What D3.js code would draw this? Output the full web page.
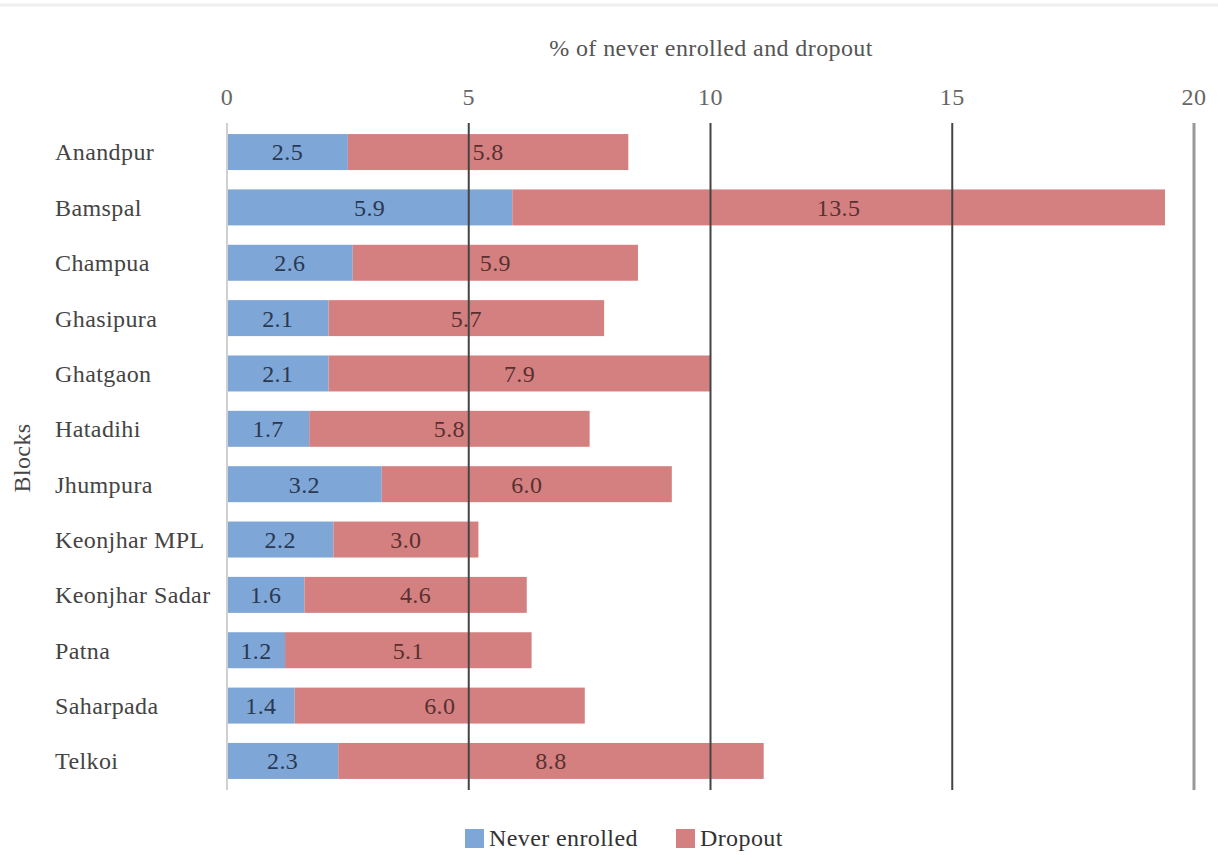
<!DOCTYPE html>
<html>
<head>
<meta charset="utf-8">
<script src="https://cdn.jsdelivr.net/npm/d3@7"></script>
<style>
  body { margin: 0; background: #fff; }
  svg text { font-family: 'Liberation Serif', 'Times New Roman', serif; letter-spacing: 0.4px; }
</style>
</head>
<body>
<svg id="chart" width="1218" height="855"></svg>
<script>
// Data
const blocks = ['Anandpur', 'Bamspal', 'Champua', 'Ghasipura', 'Ghatgaon', 'Hatadihi',
  'Jhumpura', 'Keonjhar MPL', 'Keonjhar Sadar', 'Patna', 'Saharpada', 'Telkoi'];
const neverEnrolled = [2.5, 5.9, 2.6, 2.1, 2.1, 1.7, 3.2, 2.2, 1.6, 1.2, 1.4, 2.3];
const dropout = [5.8, 13.5, 5.9, 5.7, 7.9, 5.8, 6.0, 3.0, 4.6, 5.1, 6.0, 8.8];
const xTicks = [0, 5, 10, 15, 20];
const seriesNames = ['Never enrolled', 'Dropout'];
const seriesColors = ['#7ea6d6', '#d48080'];

// Dimensions
const WIDTH = 1218;
const PLOT_LEFT = 227;
const PLOT_RIGHT = 1194;
const PLOT_TOP = 123;
const PLOT_BOTTOM = 790;
const FONT = 'Liberation Serif';
const FONT_SIZE = 24;

const svg = d3.select('#chart');

// faint border at the top of the picture
svg.append('line')
  .attr('x1', 0)
  .attr('x2', WIDTH)
  .attr('y1', 5)
  .attr('y2', 5)
  .attr('stroke', '#eeeeee')
  .attr('stroke-width', 3);

const x = d3.scaleLinear().domain([0, 20]).range([PLOT_LEFT, PLOT_RIGHT]);
const y = d3.scaleBand().domain(blocks).range([PLOT_TOP, PLOT_BOTTOM]).paddingInner(0.35).paddingOuter(0.2);

const segments = [];
blocks.forEach((name, i) => {
  let start = 0;
  [neverEnrolled[i], dropout[i]].forEach((v, s) => {
    segments.push({ name, s, start, end: start + v, value: v });
    start += v;
  });
});

const addText = (sel, size, color) => sel
  .attr('font-family', FONT)
  .attr('font-size', size)
  .attr('fill', color);

// Bars
svg.append('g')
  .selectAll('rect')
  .data(segments)
  .enter()
  .append('rect')
  .attr('x', d => x(d.start))
  .attr('y', d => y(d.name))
  .attr('width', d => x(d.end) - x(d.start))
  .attr('height', y.bandwidth())
  .attr('fill', d => seriesColors[d.s]);

// Bar value labels
addText(svg.append('g')
  .selectAll('text')
  .data(segments)
  .enter()
  .append('text')
  .attr('x', d => x((d.start + d.end) / 2))
  .attr('y', d => y(d.name) + y.bandwidth() / 2)
  .attr('dy', '0.35em')
  .attr('text-anchor', 'middle'), FONT_SIZE, d => d.s === 0 ? '#2a3852' : '#583030')
  .text(d => d.value.toFixed(1));

// Vertical grid lines (drawn over bars)
const gridStyle = t => {
  if (t === 0) return { color: '#d0d0d0', width: 2 };
  if (t === 20) return { color: '#999', width: 3 };
  return { color: '#444', width: 2 };
};
svg.append('g')
  .selectAll('line')
  .data(xTicks)
  .enter()
  .append('line')
  .attr('x1', d => x(d))
  .attr('x2', d => x(d))
  .attr('y1', PLOT_TOP)
  .attr('y2', PLOT_BOTTOM)
  .attr('stroke', d => gridStyle(d).color)
  .attr('stroke-width', d => gridStyle(d).width);

// Top axis tick labels
addText(svg.append('g')
  .selectAll('text')
  .data(xTicks)
  .enter()
  .append('text')
  .attr('x', d => x(d))
  .attr('y', 97)
  .attr('dy', '0.35em')
  .attr('text-anchor', 'middle'), FONT_SIZE, '#666')
  .text(d => d);

// Category labels
addText(svg.append('g')
  .selectAll('text')
  .data(blocks)
  .enter()
  .append('text')
  .attr('x', 55)
  .attr('y', d => y(d) + y.bandwidth() / 2)
  .attr('dy', '0.35em'), FONT_SIZE, '#444')
  .text(d => d);

// Axis titles
addText(svg.append('text')
  .attr('x', 711)
  .attr('y', 48)
  .attr('dy', '0.35em')
  .attr('text-anchor', 'middle'), FONT_SIZE, '#555')
  .text('% of never enrolled and dropout');

addText(svg.append('text')
  .attr('transform', 'translate(22, 458) rotate(-90)')
  .attr('dy', '0.35em')
  .attr('text-anchor', 'middle'), FONT_SIZE, '#444')
  .text('Blocks');

// Legend
const legendX = [465, 676];
const legend = svg.append('g')
  .selectAll('g')
  .data(seriesNames)
  .enter()
  .append('g')
  .attr('transform', (d, i) => `translate(${legendX[i]}, 838)`);

legend.append('rect')
  .attr('x', 0)
  .attr('y', -9)
  .attr('width', 19)
  .attr('height', 19)
  .attr('fill', (d, i) => seriesColors[i]);

addText(legend.append('text')
  .attr('x', 24)
  .attr('y', 0)
  .attr('dy', '0.35em'), FONT_SIZE, '#333')
  .text(d => d);
</script>
</body>
</html>
